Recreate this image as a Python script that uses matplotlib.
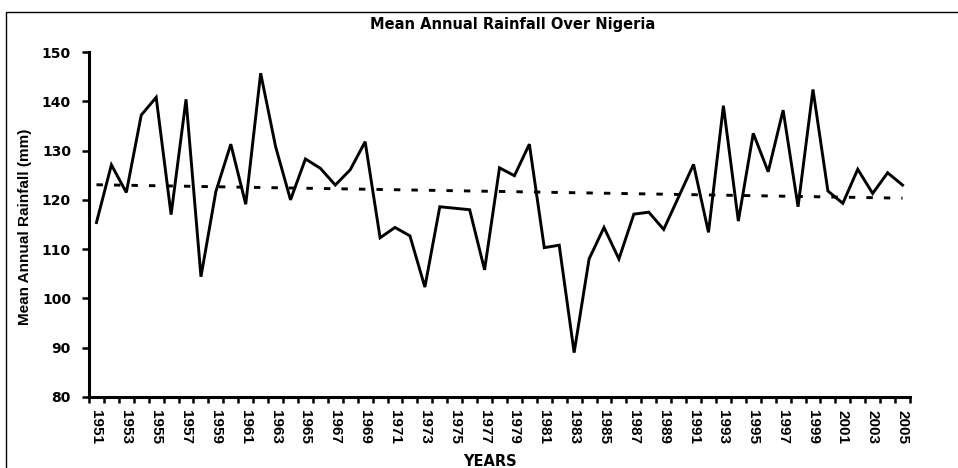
import matplotlib
matplotlib.use("Agg")
import matplotlib.pyplot as plt
import numpy as np
from matplotlib.patches import Rectangle

years = list(range(1951, 2006))
rainfall = [115.4, 127.1, 121.5, 137.2, 140.8, 117.0, 140.4, 104.4, 121.7, 131.3,
            119.1, 145.7, 130.8, 120.0, 128.3, 126.4, 123.0, 126.1, 131.8, 112.3,
            114.4, 112.7, 102.3, 118.6, 118.3, 118.0, 105.8, 126.5, 124.9, 131.3,
            110.3, 110.8, 89.0, 108.0, 114.4, 108.0, 117.1, 117.5, 114.0, 120.6,
            127.2, 113.4, 139.1, 115.7, 133.5, 125.7, 138.2, 118.6, 142.4, 121.8,
            119.3, 126.2, 121.3, 125.5, 123.0]
tick_years = [str(y) for y in range(1951, 2006, 2)]
yticks = [80, 90, 100, 110, 120, 130, 140, 150]

plt.rcParams['font.family'] = ['DejaVu Sans']
plt.rcParams['font.weight'] = 'bold'

W, H = 958, 468
fig = plt.figure(figsize=(W / 100, H / 100), dpi=100)
ax = fig.add_axes([89 / W, 1 - 397 / H, (910 - 89) / W, (397 - 52) / H])

x = np.arange(len(years))
ax.plot(x, rainfall, color='black', lw=2.1, solid_joinstyle='miter')
coef = np.polyfit(x, rainfall, 1)
ax.plot(x, np.polyval(coef, x), color='black', lw=2.1, ls=(0, (2.2, 3.8)))

ax.set_xlim(-0.5, len(years) - 0.5)
ax.set_ylim(80, 150)
ax.set_yticks(yticks)
ax.set_yticklabels([str(v) for v in yticks], fontsize=10, fontweight='bold',
                   family='DejaVu Sans')

ax.set_xticks(np.arange(len(years) + 1) - 0.5, minor=False)
ax.set_xticklabels([])
ax.set_xticks(np.arange(0, len(years), 2), minor=True)
ax.set_xticklabels(tick_years, minor=True, rotation=-90, fontsize=11,
                   fontweight='bold', va='top', ha='center',
                   family='Liberation Sans')
ax.tick_params(axis='x', which='major', length=4, width=1.8, direction='out')
ax.tick_params(axis='x', which='minor', length=0, pad=9)
ax.tick_params(axis='y', length=5, width=1.8, direction='out', pad=8)

for s in ['top', 'right']:
    ax.spines[s].set_visible(False)
for s in ['left', 'bottom']:
    ax.spines[s].set_linewidth(2.2)

fig.text(513 / W, 1 - 25 / H, 'Mean Annual Rainfall Over Nigeria', ha='center',
         va='center', fontsize=10.5, fontweight='bold', family='DejaVu Sans')
fig.text(25 / W, 1 - 227 / H, 'Mean Annual Rainfall (mm)', rotation=90,
         ha='center', va='center', fontsize=11, family='Liberation Sans')
fig.text(490 / W, 1 - 461 / H, 'YEARS', ha='center', va='center',
         fontsize=10.5, fontweight='bold', family='DejaVu Sans')

fig.patches.append(Rectangle((6 / W, -0.1), 1.2, 1 - 12 / H + 0.1,
                             transform=fig.transFigure, fill=False,
                             edgecolor='black', lw=1.0))

fig.savefig('out.png', dpi=100)
